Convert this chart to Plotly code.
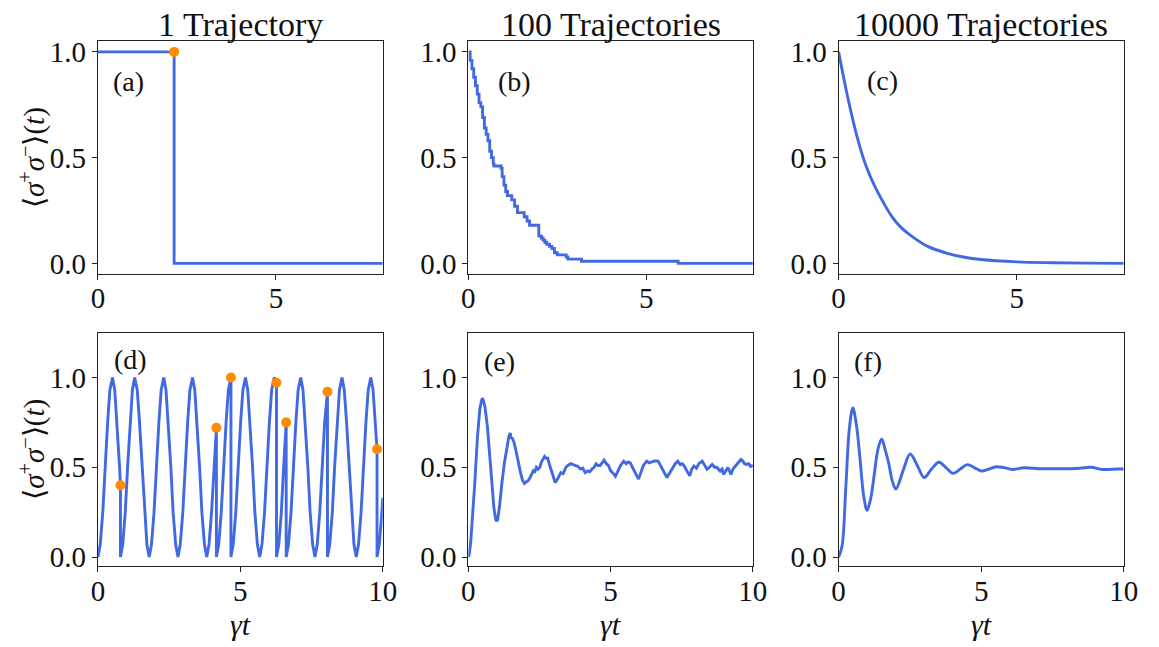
import plotly.graph_objects as go

BLUE = "#4169E1"
ORANGE = "#FF8C00"
FONT = "Liberation Serif"

col_titles = ["1 Trajectory", "100 Trajectories", "10000 Trajectories"]
panel_labels = ["(a)", "(b)", "(c)", "(d)", "(e)", "(f)"]
ylabel = "⟨<i>σ</i><sup>+</sup><i>σ</i><sup>−</sup>⟩(<i>t</i>)"
xlabel = "<i>γt</i>"

# (a) single trajectory, decay
t_a = [0, 2.14, 2.14, 8]
y_a = [1.0, 1.0, 0.0, 0.0]
jump_t_a = [2.14]
jump_y_a = [1.0]

# (b) 100 trajectories (staircase)
t_b = [0, 0.05, 0.1, 0.15, 0.2, 0.25, 0.3, 0.35, 0.4, 0.45, 0.5, 0.55, 0.6, 0.65, 0.7,
       0.72, 0.92, 0.95, 1.0, 1.05, 1.1, 1.22, 1.3, 1.38, 1.57, 1.65, 1.72, 1.98, 2.05,
       2.1, 2.15, 2.2, 2.28, 2.35, 2.42, 2.5, 2.75, 2.8, 3.18, 5.9, 8.0]
y_b = [1.0, 0.96, 0.92, 0.88, 0.84, 0.80, 0.76, 0.74, 0.69, 0.64, 0.61, 0.58, 0.53, 0.50, 0.47,
       0.46, 0.45, 0.41, 0.37, 0.34, 0.32, 0.30, 0.27, 0.24, 0.22, 0.20, 0.18, 0.13, 0.12,
       0.11, 0.10, 0.09, 0.08, 0.07, 0.05, 0.04, 0.03, 0.02, 0.01, 0.0, 0.0]

# (c) 10000 trajectories
t_c = [0, 0.25, 0.5, 0.75, 1.0, 1.25, 1.5, 1.75, 2.0, 2.5, 3.0, 3.5, 4.0, 5.0, 6.0, 7.0, 8.0]
y_c = [1.0, 0.79, 0.61, 0.47, 0.37, 0.29, 0.22, 0.17, 0.135, 0.08, 0.05, 0.03, 0.018, 0.007, 0.003, 0.001, 0.0]

# (d) single trajectory, driven
t_d = [0, 0.08, 0.17, 0.25, 0.34, 0.42, 0.51, 0.59, 0.67, 0.76, 0.79, 0.79,
       0.87, 0.96, 1.04, 1.13, 1.21, 1.29, 1.38, 1.46, 1.55, 1.63, 1.72, 1.80,
       1.88, 1.97, 2.05, 2.14, 2.22, 2.31, 2.39, 2.47, 2.56, 2.64, 2.73, 2.81,
       2.89, 2.98, 3.06, 3.15, 3.23, 3.32, 3.40, 3.48, 3.57, 3.65, 3.74, 3.82,
       3.90, 3.99, 4.07, 4.16, 4.16,
       4.24, 4.33, 4.41, 4.50, 4.58, 4.67, 4.67,
       4.75, 4.84, 4.92, 5.01, 5.09, 5.18, 5.26, 5.34, 5.43, 5.51, 5.60, 5.68,
       5.76, 5.85, 5.93, 6.02, 6.10, 6.19, 6.27, 6.27,
       6.35, 6.44, 6.52, 6.61, 6.61,
       6.69, 6.78, 6.86, 6.95, 7.03, 7.12, 7.20, 7.28, 7.37, 7.45, 7.54, 7.62,
       7.70, 7.79, 7.87, 7.96, 8.06, 8.06,
       8.14, 8.23, 8.31, 8.40, 8.48, 8.57, 8.65, 8.73, 8.82, 8.90, 8.99, 9.07,
       9.15, 9.24, 9.32, 9.41, 9.49, 9.58, 9.66, 9.74, 9.80, 9.80,
       9.88, 9.97, 10.0]
y_d = [0, 0.07, 0.25, 0.5, 0.75, 0.93, 1.0, 0.93, 0.75, 0.5, 0.40, 0,
       0.07, 0.25, 0.5, 0.75, 0.93, 1.0, 0.93, 0.75, 0.5, 0.25, 0.07, 0,
       0.07, 0.25, 0.5, 0.75, 0.93, 1.0, 0.93, 0.75, 0.5, 0.25, 0.07, 0,
       0.07, 0.25, 0.5, 0.75, 0.93, 1.0, 0.93, 0.75, 0.5, 0.25, 0.07, 0,
       0.07, 0.25, 0.5, 0.72, 0,
       0.07, 0.25, 0.5, 0.75, 0.93, 1.0, 0,
       0.07, 0.25, 0.5, 0.75, 0.93, 1.0, 0.93, 0.75, 0.5, 0.25, 0.07, 0,
       0.07, 0.25, 0.5, 0.75, 0.93, 1.0, 0.97, 0,
       0.07, 0.25, 0.5, 0.75, 0,
       0.07, 0.25, 0.5, 0.75, 0.93, 1.0, 0.93, 0.75, 0.5, 0.25, 0.07, 0,
       0.07, 0.25, 0.5, 0.75, 0.92, 0,
       0.07, 0.25, 0.5, 0.75, 0.93, 1.0, 0.93, 0.75, 0.5, 0.25, 0.07, 0,
       0.07, 0.25, 0.5, 0.75, 0.93, 1.0, 0.93, 0.75, 0.60, 0,
       0.07, 0.25, 0.33]
jump_t_d = [0.79, 4.16, 4.67, 6.27, 6.61, 8.06, 9.80]
jump_y_d = [0.40, 0.72, 1.0, 0.97, 0.75, 0.92, 0.60]

# (e) 100 trajectories, driven
t_e = [0, 0.03, 0.08, 0.15, 0.22, 0.32, 0.40, 0.46, 0.49, 0.52, 0.58, 0.67, 0.75, 0.82, 0.90,
       0.96, 0.99, 1.03, 1.10, 1.18, 1.27, 1.36, 1.42, 1.47, 1.50, 1.55, 1.59, 1.65, 1.70,
       1.76, 1.82, 1.90, 1.97, 2.04, 2.10, 2.16, 2.22, 2.28, 2.33, 2.39, 2.45, 2.51, 2.57,
       2.63, 2.68, 2.74, 2.79, 2.86, 2.93, 3.00, 3.05, 3.12, 3.18, 3.25, 3.33, 3.43, 3.50,
       3.60, 3.68, 3.77, 3.85, 3.94, 4.02, 4.11, 4.20, 4.27, 4.34, 4.42, 4.49, 4.56, 4.63,
       4.70, 4.77, 4.85, 4.92, 5.00, 5.07, 5.17, 5.25, 5.35, 5.46, 5.55, 5.62, 5.69, 5.80,
       5.90, 5.98, 6.06, 6.15, 6.27, 6.36, 6.45, 6.55, 6.67, 6.75, 6.84, 6.98, 7.08, 7.18,
       7.27, 7.36, 7.45, 7.52, 7.59, 7.68, 7.78, 7.85, 7.93, 8.02, 8.10, 8.22, 8.30, 8.39,
       8.47, 8.57, 8.65, 8.73, 8.85, 8.92, 8.97, 9.05, 9.12, 9.18, 9.23, 9.30, 9.39, 9.48,
       9.58, 9.65, 9.70, 9.77, 9.85, 9.92, 10.0]
y_e = [0.0, 0.015, 0.08, 0.23, 0.40, 0.67, 0.82, 0.87, 0.885, 0.875, 0.84, 0.725, 0.56, 0.40, 0.27,
       0.21, 0.20, 0.21, 0.29, 0.415, 0.53, 0.61, 0.67, 0.69, 0.665, 0.66, 0.645, 0.61, 0.57,
       0.52, 0.48, 0.43, 0.41, 0.42, 0.425, 0.44, 0.46, 0.48, 0.47, 0.50, 0.49, 0.50, 0.53,
       0.545, 0.56, 0.55, 0.55, 0.51, 0.47, 0.43, 0.415, 0.43, 0.45, 0.47, 0.465, 0.50, 0.51,
       0.52, 0.515, 0.51, 0.505, 0.49, 0.495, 0.47, 0.48, 0.475, 0.49, 0.50, 0.52, 0.51, 0.51,
       0.525, 0.54, 0.52, 0.51, 0.48, 0.47, 0.45, 0.48, 0.51, 0.534, 0.52, 0.53, 0.525, 0.49,
       0.46, 0.434, 0.47, 0.51, 0.534, 0.525, 0.53, 0.535, 0.534, 0.51, 0.489, 0.443, 0.47, 0.50,
       0.52, 0.534, 0.515, 0.52, 0.507, 0.48, 0.452, 0.49, 0.507, 0.495, 0.52, 0.534, 0.51, 0.489,
       0.50, 0.516, 0.50, 0.50, 0.479, 0.49, 0.46, 0.48, 0.498, 0.48, 0.46, 0.49, 0.507, 0.52,
       0.543, 0.535, 0.52, 0.516, 0.52, 0.505, 0.51]
assert len(t_e) == len(y_e)
assert len(t_d) == len(y_d)

# (f) 10000 trajectories, driven
t_f = [0, 0.12, 0.25, 0.38, 0.5, 0.62, 0.75, 0.88, 1.0, 1.13, 1.25, 1.38, 1.51, 1.63, 1.76,
       1.89, 2.01, 2.26, 2.51, 2.76, 3.0, 3.26, 3.52, 3.77, 4.01, 4.27, 4.52, 4.77, 5.01,
       5.27, 5.53, 5.8, 6.1, 6.5, 7.02, 7.5, 8.17, 8.5, 8.85, 9.26, 9.77, 10.0]
y_f = [0, 0.06, 0.38, 0.72, 0.83, 0.74, 0.55, 0.34, 0.26, 0.33, 0.46, 0.60, 0.658, 0.60, 0.52,
       0.42, 0.379, 0.48, 0.574, 0.51, 0.443, 0.49, 0.528, 0.497, 0.466, 0.49, 0.515, 0.497, 0.479,
       0.49, 0.503, 0.498, 0.488, 0.497, 0.492, 0.492, 0.492, 0.495, 0.50, 0.488, 0.49, 0.49]

series = [
    (t_a, y_a, "linear"), (t_b, y_b, "hv"), (t_c, y_c, "spline"),
    (t_d, y_d, "linear"), (t_e, y_e, "linear"), (t_f, y_f, "spline"),
]

W, H = 1159, 647
col_px = [(92.7, 383.0), (470.3, 760.3), (847.7, 1138.3)]
row_px = [(37.0, 274.0), (333.7, 571.7)]

fig = go.Figure()
axis_common = dict(showline=True, mirror=True, linecolor="#222222", linewidth=1.1,
                   ticks="outside", ticklen=5, tickwidth=1.1, tickcolor="#222222",
                   showgrid=False, zeroline=False,
                   tickfont=dict(family=FONT, size=29, color="#111111"))

label_pos = [(0.108, 0.827), (0.163, 0.829), (0.154, 0.83),
             (0.113, 0.885), (0.108, 0.877), (0.104, 0.877)]

layout = {}
for i in range(6):
    r, c = divmod(i, 3)
    n = "" if i == 0 else str(i + 1)
    t, y, shape = series[i]
    fig.add_trace(go.Scatter(x=t, y=y, mode="lines", line=dict(color=BLUE, width=2.9, shape=shape),
                             xaxis="x" + n, yaxis="y" + n, showlegend=False))
    x0, x1 = col_px[c]
    y0, y1 = row_px[r]
    if r == 0:
        xr, xt = [0, 8], [0, 5]
        yr = [-0.05, 1.05]
    else:
        xr, xt = [0, 10], [0, 5, 10]
        yr = [-0.05, 1.25]
    layout["xaxis" + n] = dict(axis_common, domain=[x0 / W, x1 / W], anchor="y" + n,
                               range=xr, tickvals=xt, ticktext=[str(v) for v in xt],
                               ticklabelstandoff=-7 if r == 0 else -6)
    layout["yaxis" + n] = dict(axis_common, domain=[1 - y1 / H, 1 - y0 / H], anchor="x" + n,
                               range=yr, tickvals=[0, 0.5, 1.0], ticktext=["0.0", "0.5", "1.0"])

fig.add_trace(go.Scatter(x=jump_t_a, y=jump_y_a, mode="markers",
                         marker=dict(color=ORANGE, size=10), xaxis="x", yaxis="y", showlegend=False))
fig.add_trace(go.Scatter(x=jump_t_d, y=jump_y_d, mode="markers",
                         marker=dict(color=ORANGE, size=10), xaxis="x4", yaxis="y4", showlegend=False))

ann = []
for i in range(6):
    n = "" if i == 0 else str(i + 1)
    lx, ly = label_pos[i]
    ann.append(dict(text=panel_labels[i], xref="x" + n + " domain", yref="y" + n + " domain",
                    x=lx, y=ly, xanchor="center", yanchor="middle", showarrow=False,
                    font=dict(family=FONT, size=28, color="#111111")))
for c in range(3):
    x0, x1 = col_px[c]
    ann.append(dict(text=col_titles[c], xref="paper", yref="paper", x=(x0 + x1) / 2 / W,
                    y=1 - 20 / H, xanchor="center", yanchor="middle", showarrow=False,
                    font=dict(family=FONT, size=34, color="#111111")))
    ann.append(dict(text=xlabel, xref="paper", yref="paper", x=(x0 + x1) / 2 / W,
                    y=1 - 631 / H, xanchor="center", yanchor="middle", showarrow=False,
                    font=dict(family=FONT, size=30, color="#111111")))
for r in range(2):
    y0, y1 = row_px[r]
    ann.append(dict(text=ylabel, xref="paper", yref="paper", x=26 / W,
                    y=1 - (y0 + y1) / 2 / H, xanchor="center", yanchor="middle",
                    textangle=-90, showarrow=False,
                    font=dict(family=FONT, size=29, color="#111111")))

fig.update_layout(**layout)
fig.update_layout(width=W, height=H, margin=dict(l=0, r=0, t=0, b=0),
                  plot_bgcolor="white", paper_bgcolor="white", annotations=ann,
                  showlegend=False)
fig.write_html("out.html")
